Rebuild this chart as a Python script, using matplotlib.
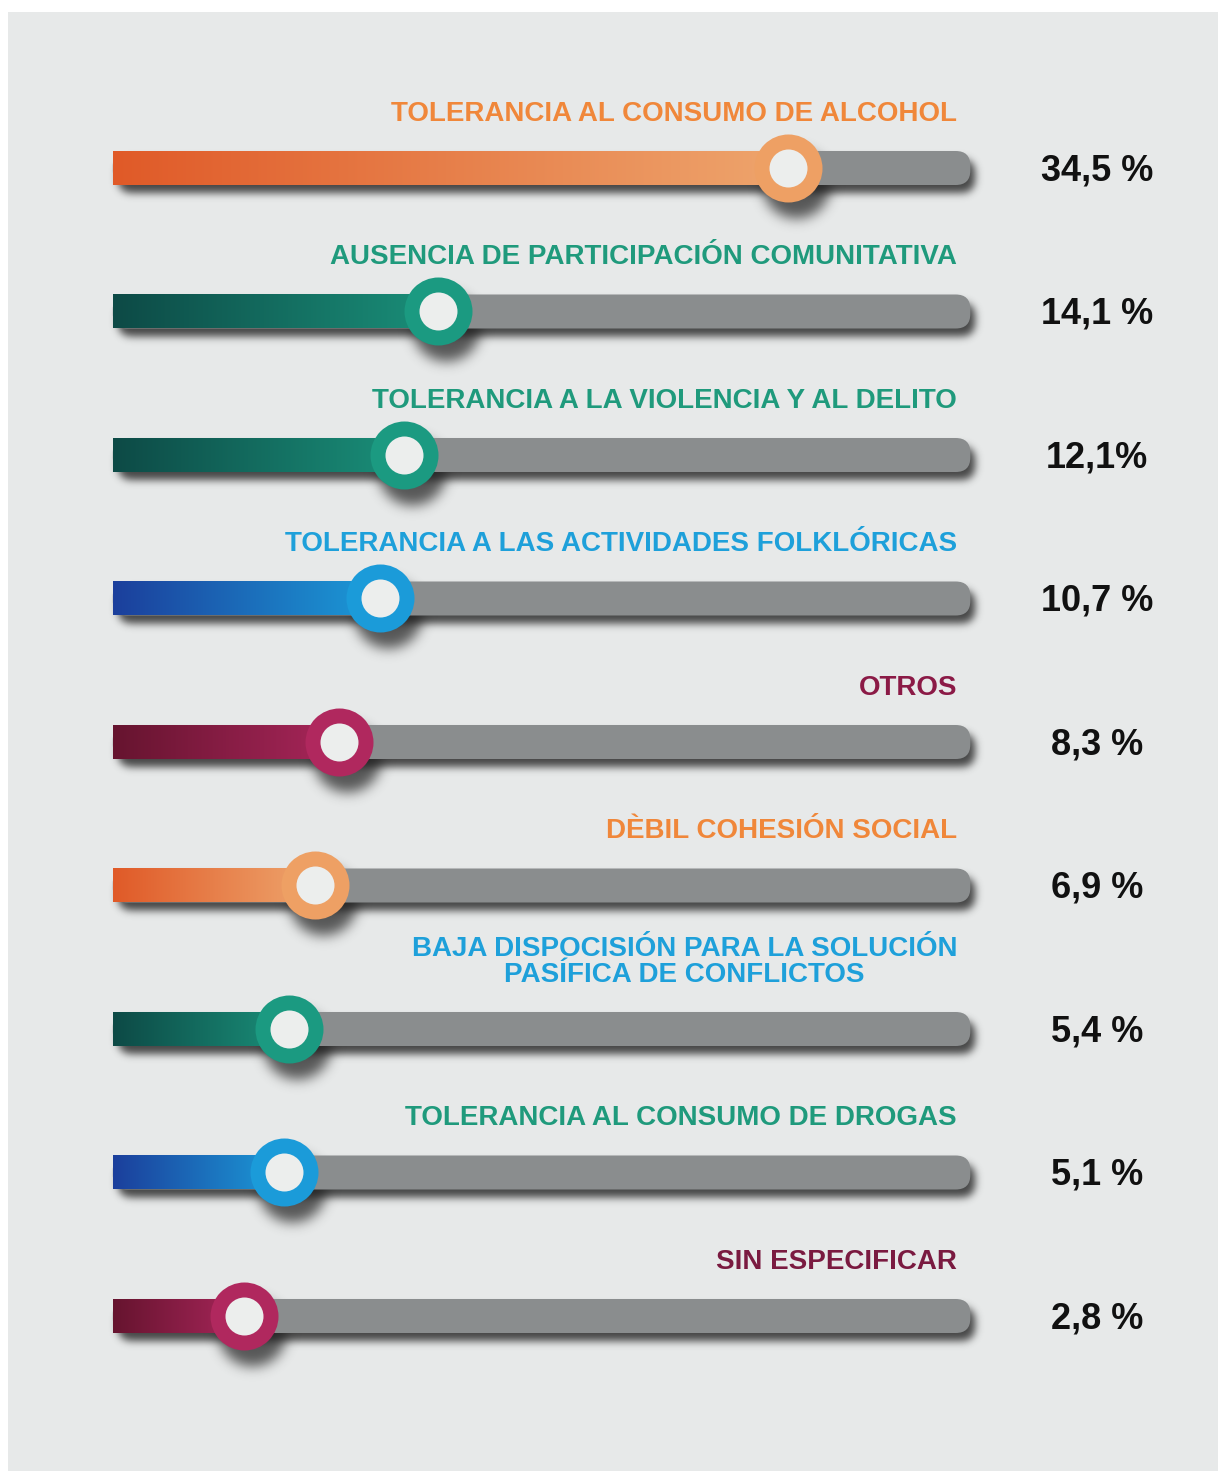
import numpy as np
import matplotlib
matplotlib.use('Agg')
import matplotlib.pyplot as plt
from matplotlib.colors import LinearSegmentedColormap
from matplotlib.patches import FancyBboxPatch, Rectangle

labels = [
    'TOLERANCIA AL CONSUMO DE ALCOHOL',
    'AUSENCIA DE PARTICIPACIÓN COMUNITATIVA',
    'TOLERANCIA A LA VIOLENCIA Y AL DELITO',
    'TOLERANCIA A LAS ACTIVIDADES FOLKLÓRICAS',
    'OTROS',
    'DÈBIL COHESIÓN SOCIAL',
    'BAJA DISPOCISIÓN PARA LA SOLUCIÓN\nPASÍFICA DE CONFLICTOS',
    'TOLERANCIA AL CONSUMO DE DROGAS',
    'SIN ESPECIFICAR',
]
values = [34.5, 14.1, 12.1, 10.7, 8.3, 6.9, 5.4, 5.1, 2.8]
value_text = ['34,5 %', '14,1 %', '12,1%', '10,7 %', '8,3 %', '6,9 %', '5,4 %', '5,1 %', '2,8 %']
bar_style = ['orange', 'teal', 'teal', 'blue', 'maroon', 'orange', 'teal', 'blue', 'maroon']
label_colors = ['#f0873a', '#1f9a7c', '#1f9a7c', '#1ea0da', '#8b1a46',
                '#f0873a', '#1ea0da', '#1f9a7c', '#7a1a40']

# (left of fill, right of fill, knob ring)
palettes = {
    'orange': ('#e05a28', '#eea56d', '#eea064'),
    'teal': ('#0d4a46', '#1a8f79', '#1b9a81'),
    'blue': ('#1c3f9c', '#1b9bd8', '#1b9bd9'),
    'maroon': ('#66142f', '#a8265a', '#b0285e'),
}

W, H, DPI = 1218, 1471, 100
px_per_pct = 17.16      # horizontal scale
x_zero_px = 196.4       # where 0 % sits
row_px = 143.5          # row spacing
first_row_px = 168.0

track_start, track_end = -4.87, 45.1
bar_h = 34 / row_px
bg = '#e7e9e9'


def shadow(dx=5, dy=8, sigma=4.0, alpha=0.8, color=(0.12, 0.12, 0.12)):
    r = int(3 * sigma)
    k = np.exp(-0.5 * (np.arange(-r, r + 1) / sigma) ** 2)
    k /= k.sum()

    def filt(im, dpi):
        pad = r + max(abs(dx), abs(dy))
        a = np.pad(im[..., 3], pad)
        b = np.zeros_like(a)
        for off, w in zip(range(-r, r + 1), k):
            b += w * np.roll(a, off, axis=0)
        c = np.zeros_like(a)
        for off, w in zip(range(-r, r + 1), k):
            c += w * np.roll(b, off, axis=1)
        c = np.roll(np.roll(c, dy, axis=0), dx, axis=1)
        out = np.zeros(a.shape + (4,))
        out[..., :3] = color
        out[..., 3] = np.clip(c * alpha, 0, 1)
        return out, -pad, -pad
    return filt


fig = plt.figure(figsize=(W / DPI, H / DPI), dpi=DPI, facecolor='white')
fig.patches.append(Rectangle((8 / W, 0), 1 - 8 / W, 1 - 12 / H,
                             transform=fig.transFigure, facecolor=bg,
                             edgecolor='none', zorder=-10))

ax = fig.add_axes([0, 0, 1, 1])
ax.set_facecolor('none')
ax.axis('off')

aspect = px_per_pct / row_px
outer_s = (68 * 0.72) ** 2
inner_s = (38 * 0.72) ** 2
grad = np.linspace(0, 1, 256).reshape(1, -1)

for i, (lab, v, txt, sty, lc) in enumerate(zip(labels, values, value_text,
                                                 bar_style, label_colors)):
    c0, c1, ring = palettes[sty]
    y0 = i - bar_h / 2

    box = dict(boxstyle='round,pad=0,rounding_size=0.85', mutation_aspect=aspect)
    sh = FancyBboxPatch((track_start, y0), track_end - track_start, bar_h,
                        facecolor='black', edgecolor='none', zorder=1, **box)
    sh.set_agg_filter(shadow())
    ax.add_patch(sh)
    ax.add_patch(FancyBboxPatch((track_start, y0), track_end - track_start, bar_h,
                                facecolor='#8a8d8e', edgecolor='none', zorder=2, **box))

    cmap = LinearSegmentedColormap.from_list(sty, [c0, c1])
    ax.imshow(grad, cmap=cmap, extent=(track_start, v, i + bar_h / 2, y0),
              aspect='auto', interpolation='bilinear', zorder=3)

    ks = ax.scatter([v], [i], s=outer_s, color='black', linewidths=0, zorder=1)
    ks.set_agg_filter(shadow(dx=4, dy=8, sigma=4.5, alpha=0.85))
    ax.scatter([v], [i], s=outer_s, color=ring, linewidths=0, zorder=5)
    ax.scatter([v], [i], s=inner_s, color='#eceeed', linewidths=0, zorder=6)

    ax.text(44.33, i - 0.33, lab, ha='right', va='baseline', multialignment='center',
            color=lc, fontsize=20, fontweight='bold', family='Liberation Sans',
            linespacing=1.0)
    ax.text(52.5, i + 0.02, txt, ha='center', va='center', color='#111111',
            fontsize=26, fontweight='bold',
            family=['Liberation Sans Narrow', 'Liberation Sans'])

ax.set_xlim(-x_zero_px / px_per_pct, (W - x_zero_px) / px_per_pct)
ax.set_ylim((H - first_row_px) / row_px, -first_row_px / row_px)

fig.savefig('out.png', dpi=DPI, facecolor='white')
